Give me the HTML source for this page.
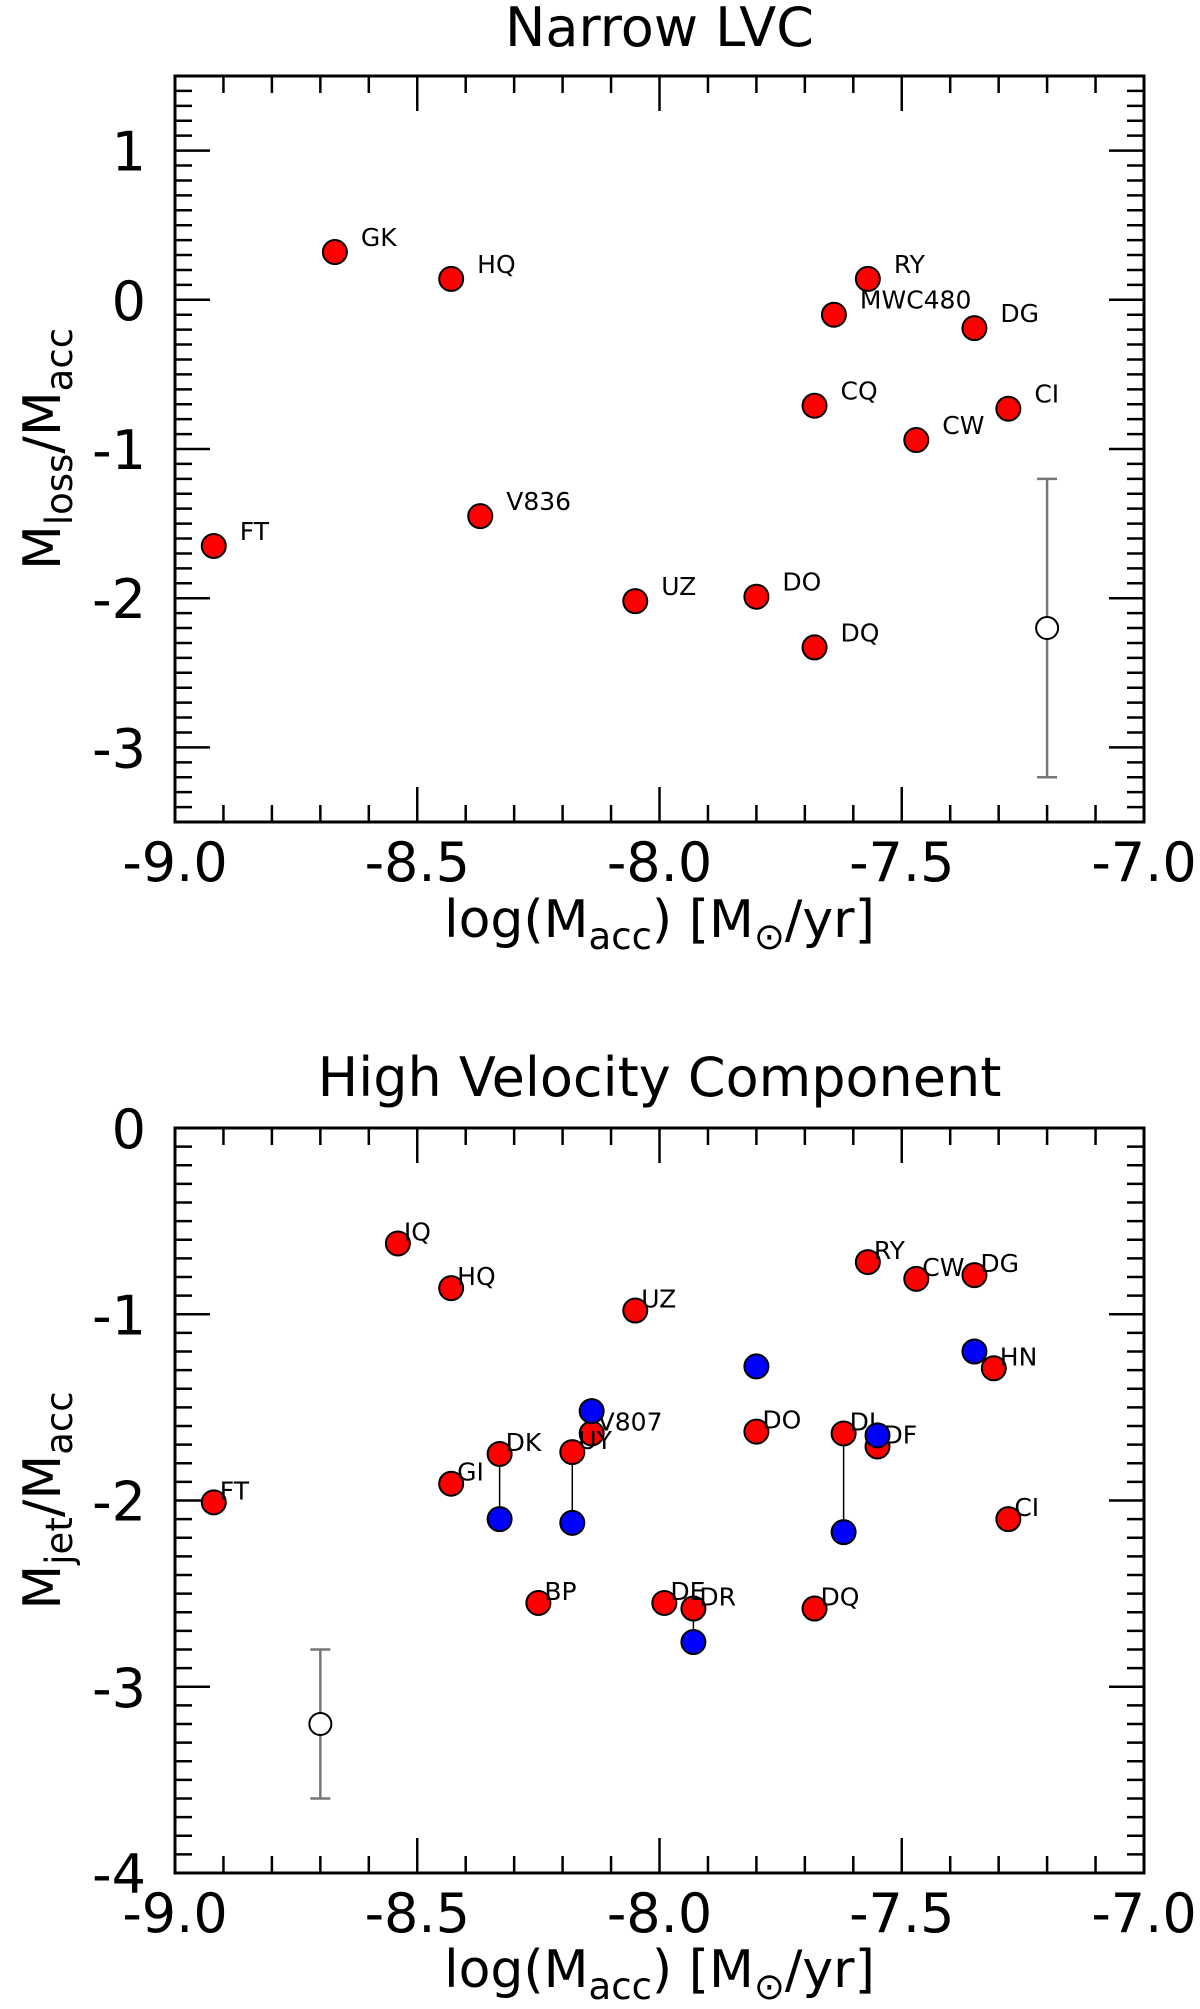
<!DOCTYPE html>
<html><head><meta charset="utf-8"><style>
html,body{margin:0;padding:0;background:#fff;}
svg{display:block;font-family:"DejaVu Sans","Liberation Sans",sans-serif;}
</style></head><body>
<svg id="fig" width="1200" height="2009" viewBox="0 0 1200 2009" xmlns="http://www.w3.org/2000/svg">
<g id="p1"></g>
<g id="p2"></g>
</svg>
<script>
// Panel 1: Narrow LVC
const lvcNames = ["GK","HQ","FT","V836","UZ","DO","DQ","CQ","MWC480","RY","DG","CW","CI"];
const lvcX = [-8.67,-8.43,-8.92,-8.37,-8.05,-7.80,-7.68,-7.68,-7.64,-7.57,-7.35,-7.47,-7.28];
const lvcY = [0.32,0.14,-1.65,-1.45,-2.02,-1.99,-2.33,-0.71,-0.10,0.14,-0.19,-0.94,-0.73];
const lvcErr = [-7.20,-2.2,-1.2,-3.2];
// Panel 2: High velocity component
const hvcNames = ["IQ","HQ","UZ","RY","CW","DG","HN","V807","DO","DL","DF","DK","UY","GI","FT","CI","BP","DE","DR","DQ"];
const hvcX = [-8.54,-8.43,-8.05,-7.57,-7.47,-7.35,-7.31,-8.14,-7.80,-7.62,-7.55,-8.33,-8.18,-8.43,-8.92,-7.28,-8.25,-7.99,-7.93,-7.68];
const hvcY = [-0.62,-0.86,-0.98,-0.72,-0.81,-0.79,-1.29,-1.64,-1.63,-1.64,-1.71,-1.75,-1.74,-1.91,-2.01,-2.10,-2.55,-2.55,-2.58,-2.58];
const blueX = [-7.35,-7.80,-8.14,-7.62,-7.55,-8.33,-8.18,-7.93];
const blueY = [-1.20,-1.28,-1.52,-2.17,-1.65,-2.10,-2.12,-2.76];
const linkRed = [9,11,12,18];
const linkBlue = [3,5,6,7];
const hvcErr = [-8.70,-3.2,-2.8,-3.6];
const xTicks = ["-9.0","-8.5","-8.0","-7.5","-7.0"];

const NS="http://www.w3.org/2000/svg";
function mk(parent,tag,attrs,text){const e=document.createElementNS(NS,tag);for(const k in attrs)e.setAttribute(k,attrs[k]);if(text!==undefined)e.textContent=text;parent.appendChild(e);return e;}

function panel(g,cfg){
  const L=175,R=1144,T=cfg.top,B=cfg.bottom;
  const sx=v=>L+(v+9)/2*(R-L);
  const sy=v=>T+(cfg.ymax-v)/(cfg.ymax-cfg.ymin)*(B-T);
  let t=mk(g,'text',{x:(L+R)/2,y:cfg.titleY,'text-anchor':'middle','font-size':54},cfg.title);
  
  
  for(let i=0;i<=20;i++){
    const x=sx(-9+i*0.1);const len=(i%5===0)?35:17;
    mk(g,'line',{x1:x,x2:x,y1:B,y2:B-len,stroke:'#000','stroke-width':2.5});
    mk(g,'line',{x1:x,x2:x,y1:T,y2:T+len,stroke:'#000','stroke-width':2.5});
  }
  const n=Math.round((cfg.ymax-cfg.ymin)*10);
  for(let i=0;i<=n;i++){
    const v=cfg.ymin+i*0.1;const y=sy(v);
    const maj=Math.abs(v-Math.round(v))<1e-6;const len=maj?35:17;
    mk(g,'line',{x1:L,x2:L+len,y1:y,y2:y,stroke:'#000','stroke-width':2.5});
    mk(g,'line',{x1:R,x2:R-len,y1:y,y2:y,stroke:'#000','stroke-width':2.5});
  }
  const fr=mk(g,'rect',{x:L,y:T,width:R-L,height:B-T,fill:'none',stroke:'#000','stroke-width':3});
  
  
  xTicks.forEach((s,i)=>{const e=mk(g,'text',{x:sx(-9+i*0.5),y:B+59,'text-anchor':'middle','font-size':54},s);
    
    });
  cfg.yTicks.forEach(v=>{const e=mk(g,'text',{x:146,y:sy(v)+20,'text-anchor':'end','font-size':54},String(v));
    
    });
  const xl=mk(g,'text',{x:(L+R)/2,y:cfg.xlabY,'text-anchor':'middle','font-size':52});
  
  
  xl.innerHTML='log(M<tspan font-size="37" dy="12">acc</tspan><tspan dy="-12">) [M</tspan><tspan font-size="37" dy="12">⊙</tspan><tspan dy="-12">/yr]</tspan>';
  const yl=mk(g,'text',{x:0,y:0,'text-anchor':'middle','font-size':52,transform:`translate(60,${(T+B)/2}) rotate(-90)`});
  
  
  yl.innerHTML=`M<tspan font-size="37" dy="12">${cfg.ysub}</tspan><tspan dy="-12">/M</tspan><tspan font-size="37" dy="12">acc</tspan>`;
  const e=cfg.err;const ex=sx(e[0]);
  const eg=mk(g,'g',{stroke:'#777','stroke-width':2.5,fill:'none'});
  
  
  mk(eg,'line',{x1:ex,x2:ex,y1:sy(e[2]),y2:sy(e[3])});
  mk(eg,'line',{x1:ex-10,x2:ex+10,y1:sy(e[2]),y2:sy(e[2])});
  mk(eg,'line',{x1:ex-10,x2:ex+10,y1:sy(e[3]),y2:sy(e[3])});
  mk(eg,'circle',{cx:ex,cy:sy(e[1]),r:11,fill:'#fff',stroke:'#000','stroke-width':2});
  return {sx,sy};
}

const g1=document.getElementById('p1');
const a1=panel(g1,{top:76,bottom:822,ymin:-3.5,ymax:1.5,title:'Narrow LVC',titleY:46,xlabY:937,yTicks:[1,0,-1,-2,-3],ysub:'loss',err:lvcErr});
lvcNames.forEach((nm,i)=>{
  const c=mk(g1,'circle',{cx:a1.sx(lvcX[i]),cy:a1.sy(lvcY[i]),r:12,fill:'#f00',stroke:'#000','stroke-width':2});
  
  
  const t=mk(g1,'text',{x:a1.sx(lvcX[i])+26,y:a1.sy(lvcY[i])-6,'font-size':25},nm);
  
  
});

const g2=document.getElementById('p2');
const a2=panel(g2,{top:1128,bottom:1873,ymin:-4,ymax:0,title:'High Velocity Component',titleY:1096,xlabY:1987,yTicks:[0,-1,-2,-3,-4],ysub:'jet',err:hvcErr});
linkRed.forEach((ri,k)=>{
  const bi=linkBlue[k];
  const l=mk(g2,'line',{x1:a2.sx(hvcX[ri]),x2:a2.sx(blueX[bi]),y1:a2.sy(hvcY[ri]),y2:a2.sy(blueY[bi]),stroke:'#000','stroke-width':1.5});
  
  
});
hvcNames.forEach((nm,i)=>{
  const c=mk(g2,'circle',{cx:a2.sx(hvcX[i]),cy:a2.sy(hvcY[i]),r:12,fill:'#f00',stroke:'#000','stroke-width':2});
  
  
});
hvcNames.forEach((nm,i)=>{
  const t=mk(g2,'text',{x:a2.sx(hvcX[i])+6,y:a2.sy(hvcY[i])-3,'font-size':25},nm);
  
  
});
blueX.forEach((v,i)=>{
  const c=mk(g2,'circle',{cx:a2.sx(v),cy:a2.sy(blueY[i]),r:12,fill:'#00f',stroke:'#000','stroke-width':2});
  
  
});
</script>
</body></html>
